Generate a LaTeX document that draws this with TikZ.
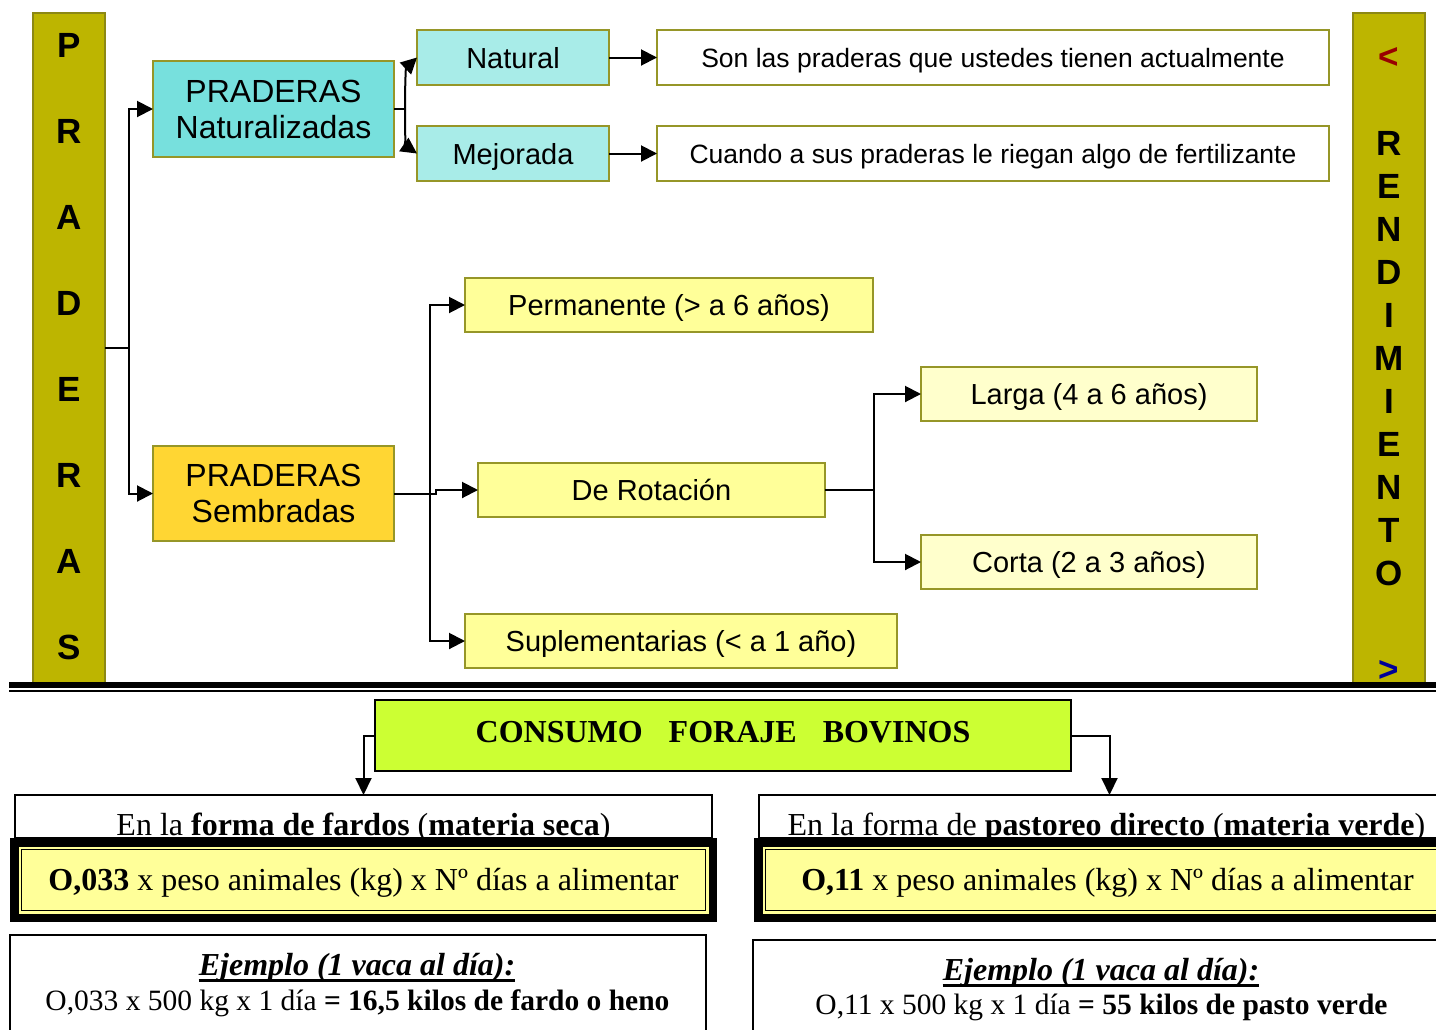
\documentclass[tikz,border=0pt]{standalone}
\usepackage{fontspec}
\setmainfont{Liberation Serif}
\newfontfamily\arialf{Liberation Sans}
\usetikzlibrary{arrows.meta}
\definecolor{barfill}{RGB}{189,181,0}
\definecolor{barline}{RGB}{140,136,20}
\definecolor{boxline}{RGB}{150,150,40}
\definecolor{turq}{RGB}{119,224,221}
\definecolor{lturq}{RGB}{168,236,232}
\definecolor{gold}{RGB}{255,214,51}
\definecolor{ylw}{RGB}{255,255,153}
\definecolor{lylw}{RGB}{255,255,204}
\definecolor{lime}{RGB}{204,255,51}
\definecolor{dred}{RGB}{153,0,0}
\definecolor{dblue}{RGB}{0,0,153}
\tikzset{
  bar/.style={draw=barline, fill=barfill, line width=1.5pt, inner sep=0pt, outer sep=0pt, minimum width=72pt, minimum height=670pt},
  barletter/.style={font=\arialf\bfseries\fontsize{35pt}{40pt}\selectfont, text height=25pt, text depth=0pt, inner sep=0pt},
  topbox/.style={draw=boxline, line width=1.6pt, inner sep=0pt, outer sep=0pt, font=\arialf\fontsize{29pt}{34pt}\selectfont, text height=21pt, text depth=0pt},
  descbox/.style={topbox, fill=white, font=\arialf\fontsize{26.5pt}{31pt}\selectfont, text height=19pt},
  bigbox/.style={draw=boxline, line width=1.6pt, inner sep=0pt, outer sep=0pt, align=center, font=\arialf\fontsize{32pt}{36pt}\selectfont, minimum width=241pt},
  conn/.style={line width=2pt, black},
  arr/.style={conn, -{Triangle[length=16pt,width=16pt]}},
  arrb/.style={line width=2pt, black, -{Triangle[length=17pt,width=16pt]}},
  plainbox/.style={draw=black, line width=1.5pt, fill=white, inner sep=0pt, outer sep=0pt},
  formbox/.style={draw=black, line width=8.5pt, fill=ylw, inner sep=0pt, outer sep=0pt, minimum width=698.5pt, minimum height=75.5pt},
  btext/.style={anchor=base, inner sep=0pt, font=\fontsize{32pt}{38pt}\selectfont},
  btexts/.style={anchor=base, inner sep=0pt, font=\fontsize{29.5pt}{35pt}\selectfont}
}
\begin{document}
\begin{tikzpicture}[x=1pt,y=-1pt]
\useasboundingbox (0,0) rectangle (1436,1029);
\clip (0,0) rectangle (1436,1029);

% side bars
\node[bar] (barL) at (69,348) {};
\node[bar] (barR) at (1389,348) {};
\foreach \l/\y [count=\i] in {P/45,R/131,A/217,D/303,E/389,R/475,A/561,S/647}
  \node[barletter] (pl\i) at (69,\y) {\l};
\node[barletter, text=dred] (rlt) at (1389,56) {<};
\foreach \l/\y [count=\i] in {R/143,E/186,N/229,D/272,I/315,M/358,I/401,E/444,N/487,T/530,O/573}
  \node[barletter] (rl\i) at (1389,\y) {\l};
\node[barletter, text=dblue] (rgt) at (1389,669) {>};

% upper tree
\node[bigbox, fill=turq, minimum height=96pt] (natz) at (273.5,109) {PRADERAS\\Naturalizadas};
\node[topbox, fill=lturq, minimum width=192pt, minimum height=55pt] (nat) at (513,57.5) {Natural};
\node[topbox, fill=lturq, minimum width=192pt, minimum height=55pt] (mej) at (513,153.5) {Mejorada};
\node[descbox, minimum width=672pt, minimum height=55pt] (son) at (993,57.5) {Son las praderas que ustedes tienen actualmente};
\node[descbox, minimum width=672pt, minimum height=55pt] (cua) at (993,153.5) {Cuando a sus praderas le riegan algo de fertilizante};

\node[bigbox, fill=gold, minimum height=95pt] (semb) at (273.5,493.5) {PRADERAS\\Sembradas};
\node[topbox, fill=ylw, minimum width=408pt, minimum height=54pt] (perm) at (669,305) {Permanente (> a 6 años)};
\node[topbox, fill=ylw, minimum width=347pt, minimum height=54pt] (rot) at (651.5,490) {De Rotación};
\node[topbox, fill=ylw, minimum width=432pt, minimum height=54pt] (supl) at (681,641) {Suplementarias (< a 1 año)};
\node[topbox, fill=lylw, minimum width=336pt, minimum height=54pt] (larga) at (1089,394) {Larga (4 a 6 años)};
\node[topbox, fill=lylw, minimum width=336pt, minimum height=54pt] (corta) at (1089,562) {Corta (2 a 3 años)};

% connectors
\coordinate (j1) at (129,348);
\draw[conn] (barL.east) -- (j1);
\draw[arr] (j1) |- (natz.west);
\draw[arr] (j1) |- (semb.west);
\coordinate (j4) at (405,109);
\draw[conn] (natz.east) -- (j4);
\draw[arr] (j4) .. controls (405,80) and (406,68) .. (nat.west);
\draw[arr] (j4) .. controls (405,138) and (406,146) .. (mej.west);
\draw[arr] (nat.east) -- (son.west);
\draw[arr] (mej.east) -- (cua.west);
\coordinate (j2) at (430,493.5);
\draw[conn] (semb.east) -- (j2);
\draw[arr] (j2) |- (perm.west);
\draw[arr] (j2) |- (supl.west);
\draw[arr] (j2) -- (436,493.5) |- (rot.west);
\coordinate (j3) at (874,490);
\draw[conn] (rot.east) -- (j3);
\draw[arr] (j3) |- (larga.west);
\draw[arr] (j3) |- (corta.west);

% separator lines
\fill[black] (9,682) rectangle (1436,688);
\fill[black] (9,690) rectangle (1436,692);

% lower part
\node[draw=black, line width=2pt, fill=lime, inner sep=0pt, outer sep=0pt, minimum width=696pt, minimum height=71pt] (cons) at (723,735.5) {};
\node[btext, font=\bfseries\fontsize{32pt}{38pt}\selectfont] (const) at (723,742) {CONSUMO\hspace{26pt}FORAJE\hspace{26pt}BOVINOS};

\node[plainbox, minimum width=697pt, minimum height=43pt] (tl) at (363.5,816.5) {};
\node[plainbox, minimum width=701pt, minimum height=43pt] (tr) at (1109.5,816.5) {};
\draw[arrb] (cons.west) -| (tl.north);
\draw[arrb] (cons.east) -| (tr.north);
\node[btext] (tlt) at (363.5,835) {En la \textbf{forma de fardos} (\textbf{materia seca})};
\node[btext] (trt) at (1106.5,835) {En la forma de \textbf{pastoreo directo} (\textbf{materia verde})};

\node[formbox] (fl) at (363.5,880) {};
\draw[line width=1.7pt] ([xshift=7.25pt,yshift=-7.25pt]fl.north west) rectangle ([xshift=-7.25pt,yshift=7.25pt]fl.south east);
\node[formbox, minimum width=697.5pt] (fr) at (1107,880) {};
\draw[line width=1.7pt] ([xshift=7.25pt,yshift=-7.25pt]fr.north west) rectangle ([xshift=-7.25pt,yshift=7.25pt]fr.south east);
\node[btext] (flt) at (363.5,890) {\textbf{O,033} x peso animales (kg) x Nº días a alimentar};
\node[btext] (frt) at (1107.5,890) {\textbf{O,11} x peso animales (kg) x Nº días a alimentar};

\node[plainbox, minimum width=696pt, minimum height=105pt] (el) at (358,987.5) {};
\node[plainbox, minimum width=707pt, minimum height=100pt] (er) at (1106.5,990) {};
\node[btext, font=\bfseries\itshape\fontsize{32pt}{38pt}\selectfont] (elt1) at (357,975) {Ejemplo (1 vaca al día):};
\draw[line width=2.6pt] ([yshift=-5.5pt]elt1.base west) -- ([yshift=-5.5pt]elt1.base east);
\node[btexts] (elt2) at (357.5,1010) {O,033 x 500 kg x 1 día \textbf{= 16,5 kilos de fardo o heno}};
\node[btext, font=\bfseries\itshape\fontsize{32pt}{38pt}\selectfont] (ert1) at (1101,980) {Ejemplo (1 vaca al día):};
\draw[line width=2.6pt] ([yshift=-5.5pt]ert1.base west) -- ([yshift=-5.5pt]ert1.base east);
\node[btexts] (ert2) at (1101.5,1014) {O,11 x 500 kg x 1 día \textbf{= 55 kilos de pasto verde}};
\end{tikzpicture}
\end{document}
